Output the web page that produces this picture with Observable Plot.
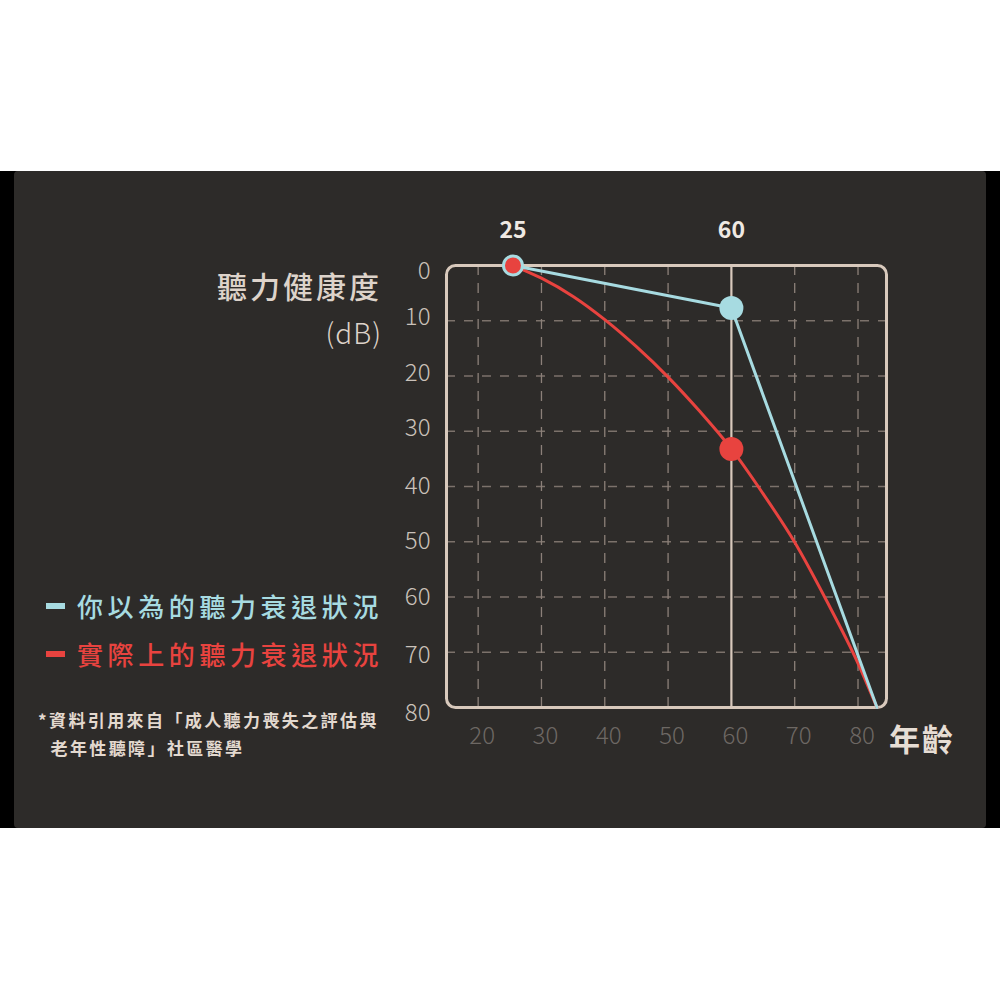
<!DOCTYPE html>
<html>
<head>
<meta charset="utf-8">
<script src="https://cdn.jsdelivr.net/npm/d3@7"></script>
<script src="https://cdn.jsdelivr.net/npm/@observablehq/plot@0.6"></script>
<style>
  html, body { margin: 0; padding: 0; background: #ffffff; }
  #wrap { position: relative; width: 1000px; height: 1000px; overflow: hidden;
          font-family: "Noto Sans CJK TC", "Noto Sans", sans-serif; }
  #band { position: absolute; left: 0; top: 171px; width: 1000px; height: 657px; background: #000; }
  #panel { position: absolute; left: 14px; top: 171px; width: 972px; height: 657px;
           background: #2d2b29; border-radius: 4px; }
  #chart { position: absolute; left: 0; top: 0; }
  .abs { position: absolute; white-space: nowrap; }
  #ytitle { right: 618px; top: 262px; font-size: 30px; font-weight: 500; color: #ddd3ca;
            letter-spacing: 3px; text-align: right; line-height: 46px; }
  #ytitle .unit { font-size: 28px; font-weight: 300; letter-spacing: 1px; }
  #xtitle { left: 889px; top: 715px; font-size: 31px; font-weight: 700; color: #e6ddd4; letter-spacing: 2px; }
  .leg { left: 46px; font-size: 26px; font-weight: 500; letter-spacing: 4.6px; display: flex; align-items: center; }
  .leg .sw { display: inline-block; width: 19px; height: 6px; margin-right: 12px; }
  #note { left: 38px; top: 706px; font-size: 17px; font-weight: 700; color: #e3d9cf;
          letter-spacing: 2.4px; line-height: 28px; }
</style>
</head>
<body>
<div id="wrap">
  <div id="band"></div>
  <div id="panel"></div>
  <div id="chart"></div>
  <div id="ytitle" class="abs">聽力健康度<br><span class="unit">(dB)</span></div>
  <div id="xtitle" class="abs">年齡</div>
  <div id="leg1" class="abs leg" style="top:587px;color:#a7dbe1"><span class="sw" style="background:#a7dbe1"></span>你以為的聽力衰退狀況</div>
  <div id="leg2" class="abs leg" style="top:635px;color:#e8433f"><span class="sw" style="background:#e8433f"></span>實際上的聽力衰退狀況</div>
  <div id="note" class="abs">*資料引用來自「成人聽力喪失之評估與<br>&nbsp;&nbsp;老年性聽障」社區醫學</div>
</div>
<script>
// ---- data ----
const actualAges = [25.5, 30, 35, 40, 45, 50, 55, 60, 65, 70, 75, 80, 83];
const actualDb   = [0, 2.3, 5.6, 9.8, 14.7, 20.2, 26.4, 33.2, 41.3, 50.1, 60.6, 72, 80];
const expectAges = [25.5, 60, 83];
const expectDb   = [0, 7.7, 80];
const markAges   = [25.5, 60];
const markLabels = ["25", "60"];
const xTicks     = [20, 30, 40, 50, 60, 70, 80];
const yTicksTop  = [0];
const yTicksUp   = [10, 20, 30];
const yTicksMid  = [40, 50, 60];
const yTicksLow  = [70];
const yTicksEnd  = [80];
const xGrid      = [20, 30, 40, 50, 70, 80];
const yGrid      = [10, 20, 30, 40, 50, 60, 70];

const actual = actualAges.map((a, i) => ({age: a, db: actualDb[i]}));
const expect = expectAges.map((a, i) => ({age: a, db: expectDb[i]}));
const startPt = [expect[0]];
const expect60 = [expect[1]];
const actual60 = actual.filter(d => d.age === 60);
const marks = markAges.map((a, i) => ({age: a, label: markLabels[i]}));

const BLUE = "#a7dbe1", RED = "#e8433f", FRAME = "#d8c9bc", GRID = "#7c726b";
const yAxisOpts = {tickSize: 0, tickPadding: 16, fontSize: 24, fontWeight: 300, color: "#cac2ba", label: null};

const chart = Plot.plot({
  width: 1000, height: 1000,
  marginLeft: 446, marginRight: 114, marginTop: 265, marginBottom: 293,
  style: {background: "transparent", fontFamily: '"Noto Sans CJK TC", "Noto Sans", sans-serif', overflow: "visible"},
  x: {domain: [15, 84.5]},
  y: {domain: [0, 80], reverse: true},
  marks: [
    Plot.ruleY(yGrid, {stroke: GRID, strokeWidth: 1.3, strokeDasharray: "9,9"}),
    Plot.ruleX(xGrid, {stroke: "#8c8079", strokeWidth: 1.3, strokeDasharray: "10,8"}),
    Plot.ruleX([60], {stroke: FRAME, strokeWidth: 2.2}),
    Plot.frame({stroke: FRAME, strokeWidth: 3, rx: 9}),
    Plot.line(actual, {x: "age", y: "db", stroke: RED, strokeWidth: 3, curve: "monotone-x"}),
    Plot.line(expect, {x: "age", y: "db", stroke: BLUE, strokeWidth: 3}),
    Plot.dot(actual60, {x: "age", y: "db", r: 12, fill: RED, stroke: "none"}),
    Plot.dot(expect60, {x: "age", y: "db", r: 12, fill: BLUE, stroke: "none"}),
    Plot.dot(startPt, {x: "age", y: "db", r: 9.5, fill: RED, stroke: BLUE, strokeWidth: 3}),
    Plot.axisY(yTicksTop, {...yAxisOpts, dy: 6}),
    Plot.axisY(yTicksUp, {...yAxisOpts, dy: -3}),
    Plot.axisY(yTicksMid, {...yAxisOpts}),
    Plot.axisY(yTicksLow, {...yAxisOpts, dy: 3}),
    Plot.axisY(yTicksEnd, {...yAxisOpts, dy: 6}),
    Plot.axisX(xTicks, {tickSize: 0, tickPadding: 19, fontSize: 24, fontWeight: 300, color: "#6d6864", dx: 4, label: null}),
    Plot.text(marks, {x: "age", text: "label", frameAnchor: "top", dy: -44, fontSize: 23, fontWeight: 700,
                      fill: "#efe9e3", style: "letter-spacing:4px"})
  ]
});
document.getElementById("chart").appendChild(chart);
</script>
</body>
</html>
